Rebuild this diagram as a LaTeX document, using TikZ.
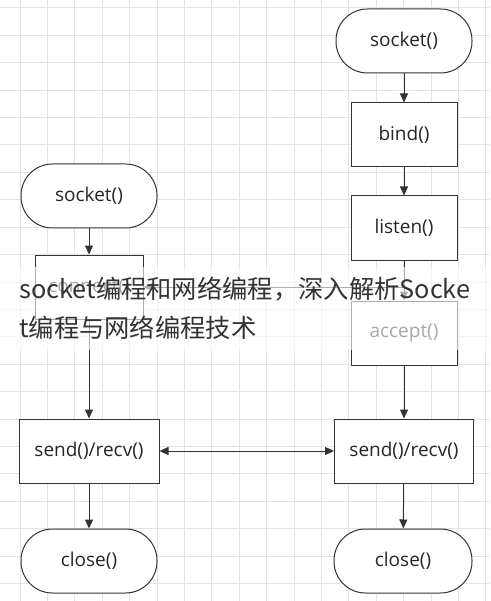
\documentclass[tikz,border=0pt]{standalone}
\usepackage{fontspec}
\setmainfont{Open Sans}
\newfontfamily\cjk{Noto Sans CJK SC}
\usetikzlibrary{arrows.meta}

\begin{document}
\begin{tikzpicture}[x=1pt, y=-1pt,
  box/.style={draw=black!80, line width=1pt, fill=white, minimum width=106pt, minimum height=64pt, font=\fontsize{19}{22}\selectfont, text=black!85},
  widebox/.style={box, minimum width=139pt},
  term/.style={box, minimum width=136pt, rounded corners=31.5pt},
  flow/.style={draw=black!80, line width=1pt, -{Triangle[length=9pt,width=8pt]}},
  biflow/.style={flow, {Triangle[length=9pt,width=8pt]}-{Triangle[length=9pt,width=8pt]}}]
\useasboundingbox (0,0) rectangle (490,601);
\fill[white] (0,0) rectangle (490,601);

% grid
\foreach \i in {0,...,18} \draw[black!11, line width=1pt] ({20+27.4*(\i-1)},0) -- ++(0,601);
\foreach \j in {0,...,21} \draw[black!11, line width=1pt] (0,{8+27.4*\j}) -- ++(490,0);

% server side
\node[term] (ssock) at (404,41) {socket()};
\node[box] (bind) at (404,135) {bind()};
\node[box] (listen) at (404,228) {listen()};
\node[box] (accept) at (404,333) {accept()};
\node[widebox] (ssend) at (404,451) {send()/recv()};
\node[term, minimum width=138pt] (sclose) at (403,561) {close()};

% client side
\node[term] (csock) at (89,196) {socket()};
\node[box, minimum width=108pt] (connect) at (89,287) {connect()};
\node[widebox, minimum width=140pt] (csend) at (89,451) {send()/recv()};
\node[term] (cclose) at (89,561) {close()};
\coordinate (join) at (connect.east -| accept.north);

\draw[flow] (ssock) -- (bind);
\draw[flow] (bind) -- (listen);
\draw[flow] (listen) -- (accept);
\draw[flow] (accept) -- (ssend);
\draw[flow] (ssend) -- (sclose);
\draw[flow] (csock) -- (connect);
\draw[flow] (connect) -- (csend);
\draw[flow] (csend) -- (cclose);
\draw[flow] (join) -- (connect.east);
\draw[biflow] (csend) -- (ssend);

% caption over the picture
\fill[white, opacity=0.6] (0,267) rectangle (490,350);
\node[anchor=base west, inner sep=0pt, font=\cjk\fontsize{25.3}{38}\selectfont, text=black!80] (title) at (19,298) {socket编程和网络编程，深入解析Socke};
\node[anchor=base west, inner sep=0pt, font=\cjk\fontsize{25.3}{38}\selectfont, text=black!80] (title2) at (19,337) {t编程与网络编程技术};

\end{tikzpicture}
\end{document}
